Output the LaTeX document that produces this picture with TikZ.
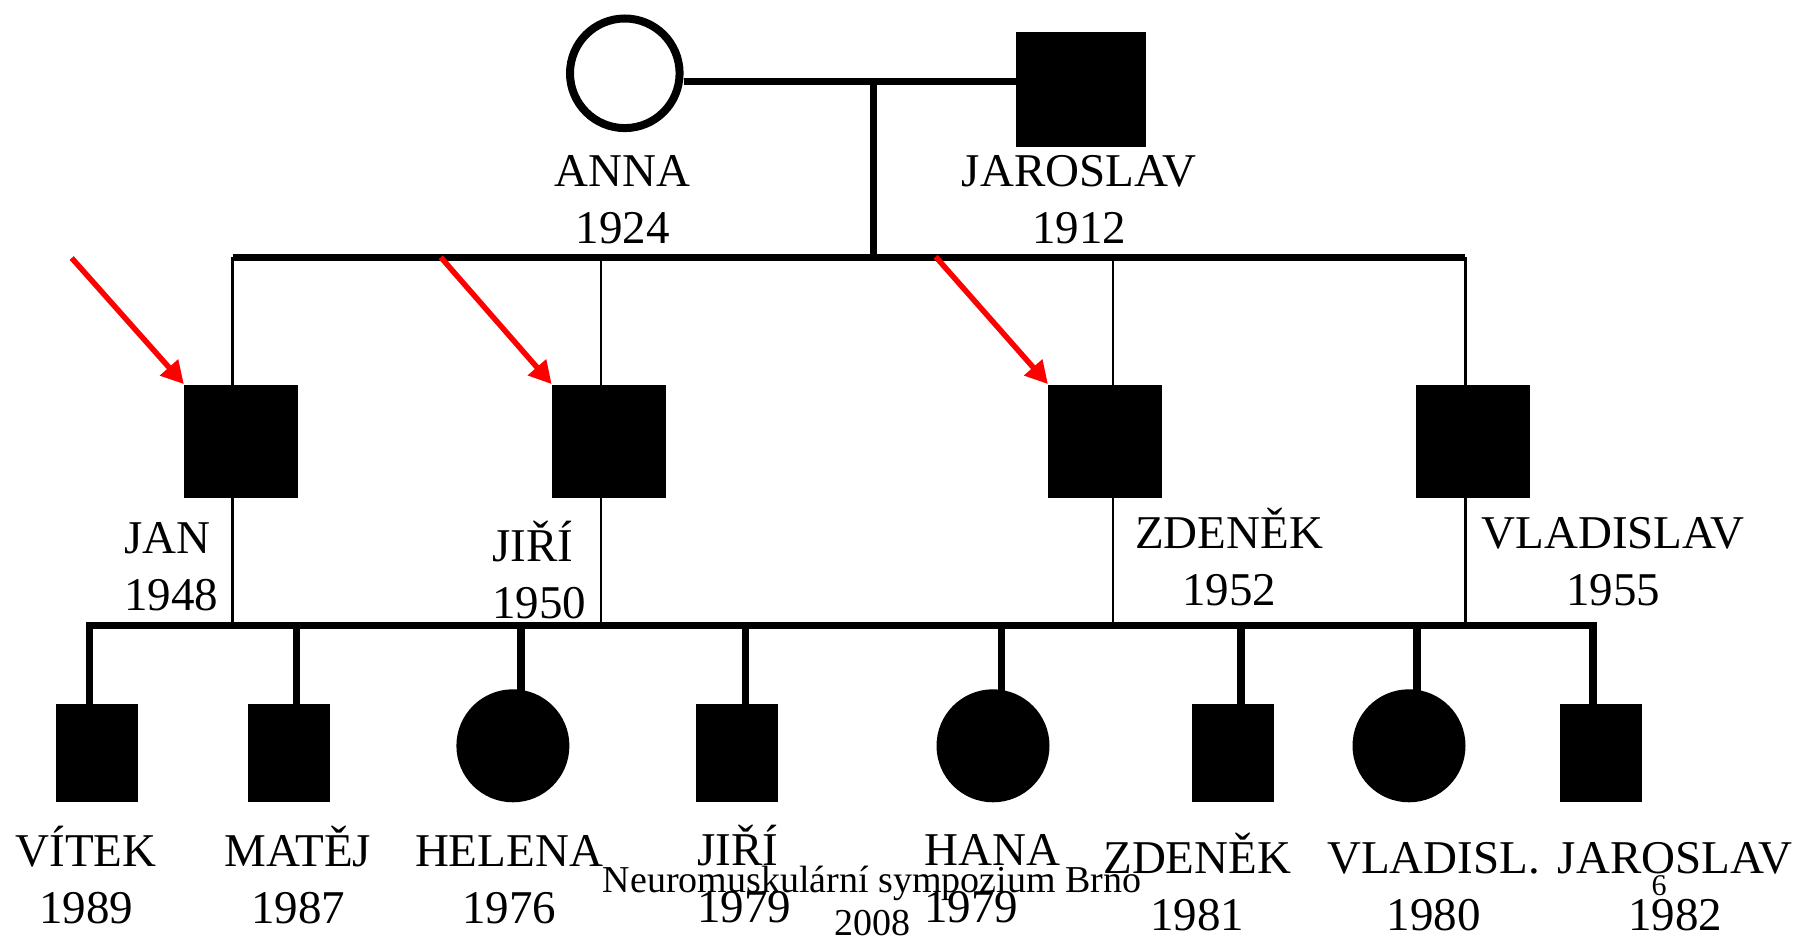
\documentclass[tikz,border=0pt]{standalone}
\usepackage{fontspec}
\setmainfont{Liberation Serif}
\usetikzlibrary{arrows.meta}
\tikzset{
  lbl/.style={inner sep=0pt, align=center, font=\fontsize{23.5}{28.5}\selectfont},
  lbll/.style={lbl, align=left},
  foot/.style={inner sep=0pt, align=center, font=\fontsize{19}{21.25}\selectfont},
  pagenum/.style={inner sep=0pt, font=\fontsize{15}{18}\selectfont},
  sqone/.style={rectangle, fill=black, inner sep=0pt, minimum width=65pt, minimum height=57.2pt},
  sqtwo/.style={rectangle, fill=black, inner sep=0pt, minimum width=56.75pt, minimum height=56.9pt},
  sqthree/.style={rectangle, fill=black, inner sep=0pt, minimum width=40.75pt, minimum height=49pt},
  circopen/.style={circle, draw=black, fill=white, line width=4pt, inner sep=0pt, minimum size=54.8pt},
  circfull/.style={circle, fill=black, inner sep=0pt, minimum size=56.5pt},
  thk/.style={line width=3.8pt, line join=miter},
  thn/.style={line width=1.15pt},
  redarrow/.style={red, line width=2.75pt, -{Triangle[length=11.2pt,width=11.6pt]}}
}
\begin{document}
\begin{tikzpicture}[x=0.5pt,y=-0.5pt]
\useasboundingbox (0,0) rectangle (1801,942);
% generation 1
\node[circopen] (anna) at (624.8,73.3) {};
\node[sqone] (jar) at (1081,89.5) {};
\coordinate (m) at (873.3,81.3);
\coordinate (s2) at (873.3,257.3);
\draw[thk] (anna.east |- m) -- (jar.west |- m);
\draw[thk] (m) -- (s2);
% anchor base = baseline of the last line
\node[lbl, anchor=base] (annaL) at (622.8,243.3) {ANNA\\1924};
\node[lbl, anchor=base] (jarL) at (1079,243.3) {JAROSLAV\\1912};
% generation 2
\coordinate (s2a) at (232.6,257.3);
\coordinate (s2b) at (601,257.3);
\coordinate (s2c) at (1113.2,257.3);
\coordinate (s2d) at (1465.4,257.3);
\coordinate (s3a) at (232.6,625.5);
\coordinate (s3b) at (601,625.5);
\coordinate (s3c) at (1113.2,625.5);
\coordinate (s3d) at (1465.4,625.5);
\draw[thk] (s2a) -- (s2d);
\draw[thn] (s2a) -- (s3a);
\draw[thn] (s2b) -- (s3b);
\draw[thn] (s2c) -- (s3c);
\draw[thn] (s2d) -- (s3d);
\node[sqtwo] (jan) at (241,441.4) {};
\node[sqtwo] (jiri) at (608.8,441.4) {};
\node[sqtwo] (zden) at (1105.1,441.4) {};
\node[sqtwo] (vlad) at (1472.9,441.4) {};
\node[lbll, anchor=base west] (janL) at (124,610) {JAN\\1948};
\node[lbll, anchor=base west] (jiriL) at (492,618.3) {JIŘÍ\\1950};
\node[lbl, anchor=base] (zdenL) at (1229,605) {ZDENĚK\\1952};
\node[lbl, anchor=base] (vladL) at (1613,605) {VLADISLAV\\1955};
% red arrows
\coordinate (ra) at (71.7,258);
\coordinate (rb) at (440.8,257.3);
\coordinate (rc) at (935.6,256.7);
\draw[redarrow] (ra) -- (jan.north west);
\draw[redarrow] (rb) -- (jiri.north west);
\draw[redarrow] (rc) -- (zden.north west);
% generation 3
\node[sqthree] (vitek) at (97,753.3) {};
\node[sqthree] (matej) at (289,753.3) {};
\node[circfull] (helena) at (512.9,745.8) {};
\node[sqthree] (jiriB) at (737,753.3) {};
\node[circfull] (hana) at (993,745.8) {};
\node[sqthree] (zdenB) at (1233,753.3) {};
\node[circfull] (vladB) at (1409,745.8) {};
\node[sqthree] (jarB) at (1601,753.3) {};
\coordinate (dl) at (89.5,625.5);
\coordinate (dr) at (1593.2,625.5);
\coordinate (d2) at (296.5,625.5);
\coordinate (d3) at (521,625.5);
\coordinate (d4) at (745.3,625.5);
\coordinate (d5) at (1001.5,625.5);
\coordinate (d6) at (1241,625.5);
\coordinate (d7) at (1416.8,625.5);
\draw[thk] (dl |- vitek.north) -- (dl) -- (dr) -- (dr |- jarB.north);
\draw[thk] (d2) -- (d2 |- matej.north);
\draw[thk] (d3) -- (d3 |- helena.center);
\draw[thk] (d4) -- (d4 |- jiriB.north);
\draw[thk] (d5) -- (d5 |- hana.center);
\draw[thk] (d6) -- (d6 |- zdenB.north);
\draw[thk] (d7) -- (d7 |- vladB.center);
\node[lbl, anchor=base] (vitekL) at (86,923.3) {VÍTEK\\1989};
\node[lbl, anchor=base] (matejL) at (298,923.3) {MATĚJ\\1987};
\node[lbl, anchor=base] (helenaL) at (509,923.3) {HELENA\\1976};
\node[lbll, anchor=base west] (jiriBL) at (697,922.5) {JIŘÍ\\1979};
\node[lbll, anchor=base west] (hanaL) at (924,922.5) {HANA\\1979};
\node[lbl, anchor=base] (zdenBL) at (1197.3,930) {ZDENĚK\\1981};
\node[lbl, anchor=base] (vladBL) at (1433.5,930) {VLADISL.\\1980};
\node[lbl, anchor=base] (jarBL) at (1675,930) {JAROSLAV\\1982};
% footer
\node[foot, anchor=base] (fn) at (872,935) {Neuromuskulární sympozium Brno\\2008};
\node[pagenum, anchor=base] (pg) at (1659,895) {6};
\end{tikzpicture}
\end{document}
